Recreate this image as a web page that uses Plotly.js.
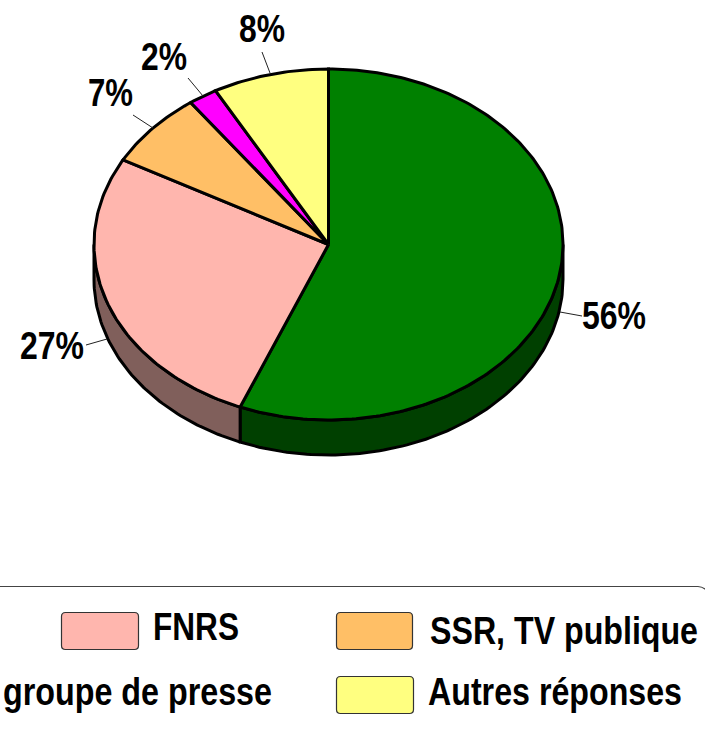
<!DOCTYPE html>
<html><head><meta charset="utf-8">
<script src="https://cdn.plot.ly/plotly-3.0.0.min.js"></script>
<style>html,body{margin:0;padding:0;background:#fff;overflow:hidden}</style>
</head><body><div id="chart" style="width:705px;height:729px"></div>
<script>
const categories = ['Non précisé', 'FNRS', 'SSR, TV publique', 'groupe de presse', 'Autres réponses'];
const shares = [56.15, 26.85, 7, 2, 8];
const shareLabels = ['56%', '27%', '7%', '2%', '8%'];
const topColours = ['#008000', '#FFB6AE', '#FFBF66', '#FF00FF', '#FFFF80'];
const sideColours = ['#004000', '#805F5B', '#806033', '#800080', '#808040'];

const FONT = 'Liberation Sans, Arial, sans-serif';
const cx = 328.5, cy = 244.5, rx = 234.5, ry = 175.5, depth = 35;
const total = shares.reduce((a, b) => a + b, 0);
const px = t => cx + rx * Math.sin(t * Math.PI / 180);
const py = t => cy - ry * Math.cos(t * Math.PI / 180);
const arc = (a, b) => { const r = []; const n = Math.max(2, Math.ceil(Math.abs(b - a))); for (let i = 0; i <= n; i++) r.push(a + (b - a) * i / n); return r; };

const traces = [];
const wedges = [];
let acc = 0;
shares.forEach((v, i) => { const a = acc / total * 360; acc += v; wedges.push([a, acc / total * 360, i]); });

wedges.forEach(([a, b, i]) => {
  const s = Math.max(a, 90), e = Math.min(b, 270);
  if (e <= s) return;
  const t = arc(s, e);
  const x = t.map(px).concat(t.slice().reverse().map(px));
  const y = t.map(q => py(q) + depth).concat(t.slice().reverse().map(py));
  x.push(x[0]); y.push(y[0]);
  traces.push({ type: 'scatter', mode: 'lines', x, y, fill: 'toself', fillcolor: sideColours[i],
    line: { color: '#000', width: 3 }, hoverinfo: 'skip', showlegend: false });
});
wedges.forEach(([a, b, i]) => {
  const t = arc(a, b);
  const x = [cx].concat(t.map(px), [cx]);
  const y = [cy].concat(t.map(py), [cy]);
  traces.push({ type: 'scatter', mode: 'lines', x, y, fill: 'toself', fillcolor: topColours[i],
    line: { color: '#000', width: 3 }, name: categories[i], hoverinfo: 'skip', showlegend: false });
});

const leaders = [
  [560, 312, 582, 316], [86, 345, 107, 339], [133, 115, 153, 128], [188, 78, 203, 96], [262, 52, 270, 73]
];
const shapes = leaders.map(l => ({ type: 'line', xref: 'x', yref: 'y', x0: l[0], y0: l[1], x1: l[2], y1: l[3], line: { color: '#222', width: 1 } }));

const rrect = (x0, y0, x1, y1, r) => `M${x0 + r},${y0} L${x1 - r},${y0} Q${x1},${y0} ${x1},${y0 + r} L${x1},${y1 - r} Q${x1},${y1} ${x1 - r},${y1} L${x0 + r},${y1} Q${x0},${y1} ${x0},${y1 - r} L${x0},${y0 + r} Q${x0},${y0} ${x0 + r},${y0} Z`;
shapes.push({ type: 'path', xref: 'x', yref: 'y', path: 'M-5,586.5 L698,586.5 Q704,587 708,592', line: { color: '#444', width: 1.2 } });
[[61, 612, 138, 649, 1], [336, 612, 412, 649, 2], [336, 676, 413, 713, 4]].forEach(s => {
  shapes.push({ type: 'path', xref: 'x', yref: 'y', path: rrect(s[0] + .5, s[1] + .5, s[2] + .5, s[3] + .5, 4), fillcolor: topColours[s[4]], line: { color: '#333', width: 1.2 } });
});

const ann = (text, x, y, w) => ({ text, x, y, width: w, align: 'center', xref: 'x', yref: 'y', xanchor: 'center', yanchor: 'middle', showarrow: false,
  font: { family: FONT, size: 38, color: '#000', weight: 'bold' } });
// text, centre x, centre y, drawn width
const labelPlacement = [
  [shareLabels[0], 614, 316, 64],
  [shareLabels[1], 52, 346, 64],
  [shareLabels[2], 110, 93, 45],
  [shareLabels[3], 164, 57, 46],
  [shareLabels[4], 262, 29, 46],
  [categories[1], 196, 627, 86],
  [categories[2], 564, 631, 268],
  [categories[3], 137.5, 692, 269],
  [categories[4], 555, 692, 254]
];
const annotations = labelPlacement.map(l => ann(l[0], l[1], l[2], l[3]));

Plotly.newPlot('chart', traces, {
  width: 705, height: 729, margin: { l: 0, r: 0, t: 0, b: 0 }, paper_bgcolor: '#fff', plot_bgcolor: '#fff', showlegend: false,
  xaxis: { range: [0, 705], visible: false, fixedrange: true },
  yaxis: { range: [729, 0], visible: false, fixedrange: true },
  shapes, annotations
}, { displayModeBar: false, staticPlot: true }).then(gd => {
  // Condense the glyphs: no narrow face is installed.
  gd.querySelectorAll('.annotation-text').forEach(el => {
    const hit = labelPlacement.find(l => l[0] === el.textContent);
    if (hit) { el.setAttribute('textLength', hit[3]); el.setAttribute('lengthAdjust', 'spacingAndGlyphs'); }
  });
});
</script></body></html>
